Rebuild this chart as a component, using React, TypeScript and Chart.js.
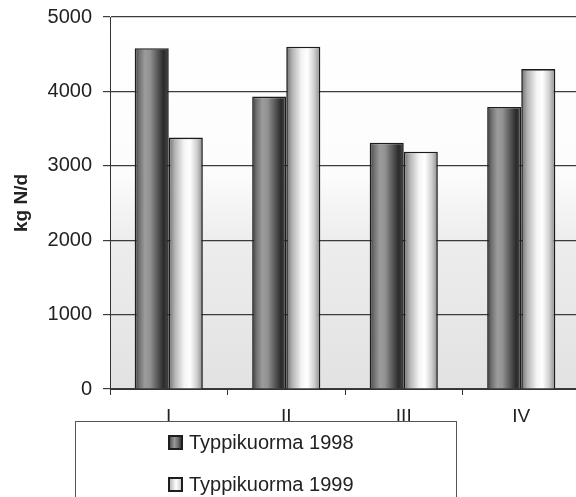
import React, { useEffect, useRef } from "react";
import { Chart, registerables } from "chart.js";

Chart.register(...registerables);

// Nitrogen load per treatment line, kg N/d
const categories = ["I", "II", "III", "IV"];
const load1998 = [4580, 3930, 3310, 3790];
const load1999 = [3380, 4600, 3190, 4300];
const seriesLabels = ["Typpikuorma 1998", "Typpikuorma 1999"];
const yTicks = [0, 1000, 2000, 3000, 4000, 5000];

const CAT_PCT = 0.58;
const FONT = "'Liberation Sans', Arial, Helvetica, sans-serif";

// Horizontal colour stops that give each bar a rounded, cylinder-like look
const darkStops: [number, string][] = [
  [0, "#3a3a3a"],
  [0.12, "#6e6e6e"],
  [0.3, "#9c9c9c"],
  [0.45, "#929292"],
  [0.65, "#5e5e5e"],
  [0.85, "#2a2a2a"],
  [1, "#4a4a4a"],
];
const lightStops: [number, string][] = [
  [0, "#6e6e6e"],
  [0.18, "#b4b4b4"],
  [0.45, "#f4f4f4"],
  [0.62, "#ffffff"],
  [0.82, "#d0d0d0"],
  [1, "#8a8a8a"],
];

function barGradient(stops: [number, string][], fallback: string) {
  return (ctx: any) => {
    const chart = ctx.chart;
    const xs = chart.scales?.x;
    if (!xs || ctx.type !== "data" || !xs.width) return fallback;
    const center = xs.getPixelForValue(ctx.dataIndex);
    const catW = xs.width / categories.length;
    const barW = (catW * CAT_PCT) / 2;
    const left = center - barW + ctx.datasetIndex * barW;
    const g = chart.ctx.createLinearGradient(left, 0, left + barW, 0);
    stops.forEach(([o, c]) => g.addColorStop(o, c));
    return g;
  };
}

// Soft grey wash over the lower part of the plot area
const plotBackground = {
  id: "plotBackground",
  beforeDraw(chart: any) {
    const { ctx, chartArea } = chart;
    if (!chartArea) return;
    const { left, top, right, bottom } = chartArea;
    const g = ctx.createLinearGradient(0, top, 0, bottom);
    g.addColorStop(0, "#ffffff");
    g.addColorStop(0.42, "#fcfcfc");
    g.addColorStop(0.6, "#ededed");
    g.addColorStop(1, "#e2e2e2");
    ctx.save();
    ctx.fillStyle = g;
    ctx.fillRect(left, top, right - left, bottom - top);
    ctx.restore();
  },
};

function LegendMarker({ dark }: { dark: boolean }) {
  const bg = dark
    ? "linear-gradient(90deg,#555 0%,#9a9a9a 40%,#6a6a6a 75%,#3a3a3a 100%)"
    : "linear-gradient(90deg,#bbb 0%,#ffffff 55%,#cfcfcf 100%)";
  return (
    <span
      style={{
        display: "inline-block",
        width: 11,
        height: 11,
        border: "2px solid #1e1e1e",
        background: bg,
        flex: "0 0 auto",
      }}
    />
  );
}

export default function App() {
  const canvasRef = useRef<HTMLCanvasElement | null>(null);

  useEffect(() => {
    const canvas = canvasRef.current;
    if (!canvas) return;
    const chart = new Chart(canvas, {
      type: "bar",
      data: {
        labels: categories,
        datasets: [
          {
            label: seriesLabels[0],
            data: load1998,
            backgroundColor: barGradient(darkStops, "#777"),
            borderColor: "#1c1c1c",
            borderWidth: 1.6,
            categoryPercentage: CAT_PCT,
            barPercentage: 1,
          },
          {
            label: seriesLabels[1],
            data: load1999,
            backgroundColor: barGradient(lightStops, "#eee"),
            borderColor: "#1c1c1c",
            borderWidth: 1.6,
            categoryPercentage: CAT_PCT,
            barPercentage: 1,
          },
        ],
      },
      options: {
        responsive: false,
        animation: false,
        layout: { padding: { top: 17, right: 10, left: 0, bottom: 0 } },
        plugins: {
          legend: { display: false },
          tooltip: { enabled: false },
        },
        scales: {
          x: {
            grid: {
              offset: true,
              drawOnChartArea: false,
              tickLength: 6,
              color: "#333",
            },
            border: { color: "#333", width: 1 },
            ticks: {
              color: "#222",
              font: { family: FONT, size: 19 },
              padding: 10,
            },
            afterFit: (scale: any) => {
              scale.height = 108;
            },
          },
          y: {
            min: 0,
            max: 5000,
            afterBuildTicks: (scale: any) => {
              scale.ticks = yTicks.map((v) => ({ value: v }));
            },
            grid: { color: "#3c3c3c", lineWidth: 1.2, tickLength: 7 },
            border: { color: "#333", width: 1 },
            ticks: {
              color: "#222",
              font: { family: FONT, size: 20 },
              padding: 11,
              callback: (v: any) => String(v),
            },
            title: {
              display: true,
              text: "kg N/d",
              color: "#222",
              font: { family: FONT, size: 19, weight: "bold" },
              padding: { top: 10, bottom: 0 },
            },
            afterFit: (scale: any) => {
              scale.width = 110;
              scale.paddingTop = 0;
              scale.paddingBottom = 0;
            },
          },
        },
      },
      plugins: [plotBackground],
    });
    return () => chart.destroy();
  }, []);

  return (
    <div
      style={{
        position: "fixed",
        left: 0,
        top: 0,
        width: 576,
        height: 497,
        overflow: "hidden",
        background: "#fff",
      }}
    >
      <canvas ref={canvasRef} width={590} height={497} style={{ display: "block" }} />
      <div
        style={{
          position: "absolute",
          left: 75,
          top: 421,
          width: 382,
          height: 120,
          border: "1px solid #555",
          boxSizing: "border-box",
          fontFamily: FONT,
          fontSize: 20,
          color: "#222",
        }}
      >
        {seriesLabels.map((label, i) => (
          <div
            key={label}
            style={{
              position: "absolute",
              left: 92,
              top: 8 + i * 42,
              height: 24,
              display: "flex",
              alignItems: "center",
              whiteSpace: "nowrap",
            }}
          >
            <LegendMarker dark={i === 0} />
            <span style={{ marginLeft: 6 }}>{label}</span>
          </div>
        ))}
      </div>
    </div>
  );
}
